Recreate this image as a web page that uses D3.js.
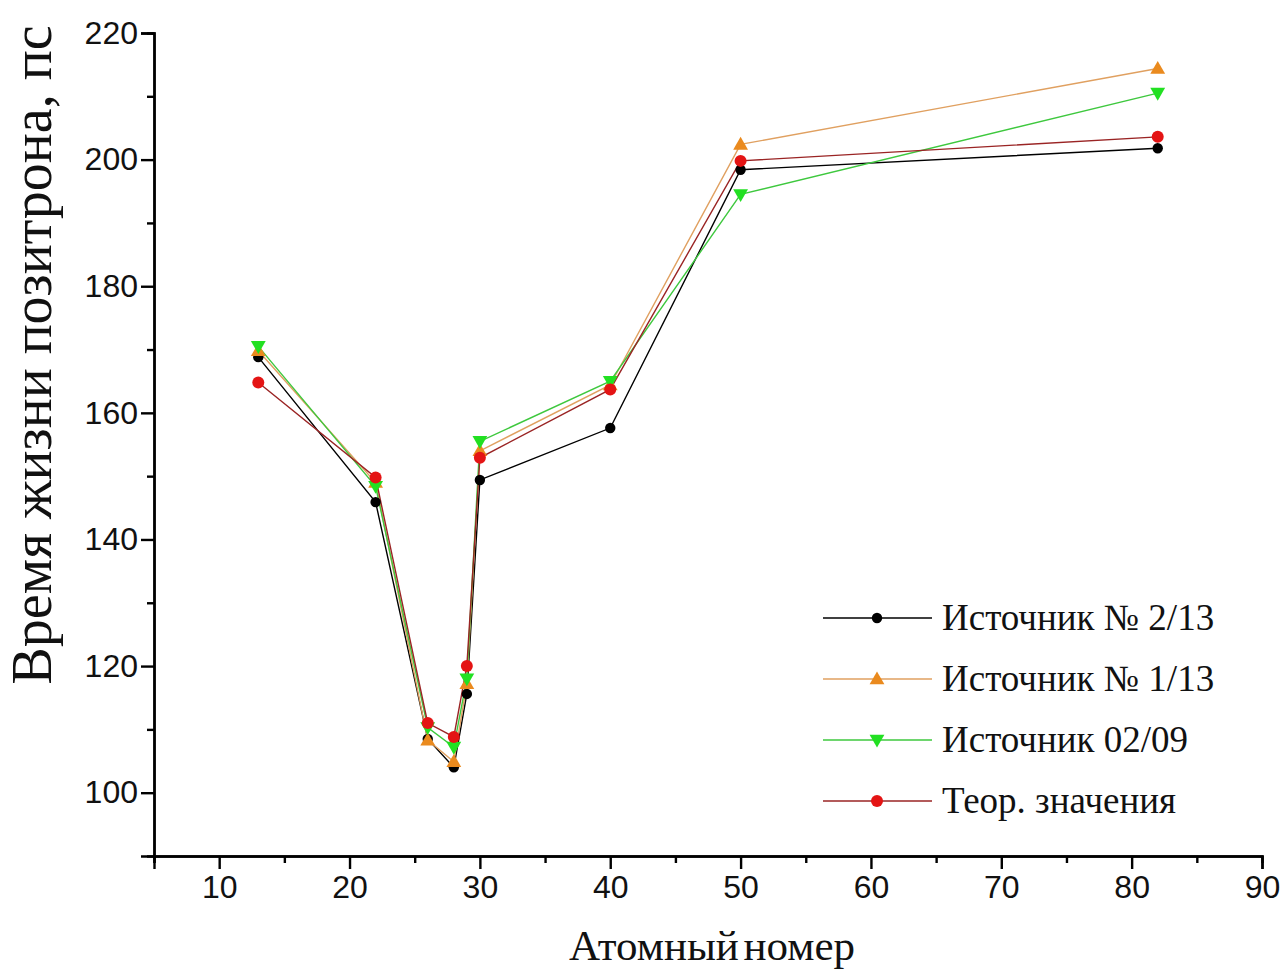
<!DOCTYPE html>
<html><head><meta charset="utf-8">
<script src="https://cdn.jsdelivr.net/npm/d3@7"></script>
<style>body{margin:0;background:#fff}svg{display:block}</style>
</head><body>
<svg id="c" width="1286" height="970"></svg>
<script>
const atomicNumbers = [13, 22, 26, 28, 29, 30, 40, 50, 82];
const src213 = [168.8, 145.9, 108.5, 104.0, 115.6, 149.4, 157.6, 198.4, 201.8];
const src113 = [169.8, 149.0, 108.3, 104.9, 117.2, 154.0, 164.4, 202.4, 214.4];
const src0209 = [170.5, 148.4, 110.3, 107.2, 118.0, 155.5, 165.0, 194.5, 210.5];
const theory = [164.8, 149.8, 111.0, 108.8, 120.0, 152.9, 163.7, 199.8, 203.6];
const seriesNames = ["Источник № 2/13", "Источник № 1/13", "Источник 02/09", "Теор. значения"];
const xTicks = [10, 20, 30, 40, 50, 60, 70, 80, 90];
const yTicks = [100, 120, 140, 160, 180, 200, 220];
const xTitle = "Атомный номер";
const yTitle = "Время жизни позитрона, пс";

const svg = d3.select("#c");
const x = d3.scaleLinear().domain([5, 90]).range([154, 1262]);
const y = d3.scaleLinear().domain([90, 220]).range([856, 33]);

const series = [
  {name: seriesNames[0], values: src213, line: "#000000", fill: "#000000", sym: "circle"},
  {name: seriesNames[1], values: src113, line: "#e0a060", fill: "#ea8a1e", sym: "up"},
  {name: seriesNames[2], values: src0209, line: "#3ec83e", fill: "#22e022", sym: "down"},
  {name: seriesNames[3], values: theory, line: "#9a2424", fill: "#e41414", sym: "circleR"}
];

function marker(g, sym, cx, cy, fill) {
  if (sym === "circle") {
    g.append("circle").attr("cx", cx).attr("cy", cy).attr("r", 5.2).attr("fill", fill);
  } else if (sym === "circleR") {
    g.append("circle").attr("cx", cx).attr("cy", cy).attr("r", 6).attr("fill", fill);
  } else {
    const p = d3.symbol().type(d3.symbolTriangle).size(95)();
    g.append("path").attr("d", p).attr("fill", fill)
      .attr("transform", `translate(${cx},${cy + (sym === "up" ? 1 : -1)}) rotate(${sym === "down" ? 180 : 0})`);
  }
}

// Axes
const xAxis = d3.axisBottom(x).tickValues(xTicks).tickSize(13).tickPadding(6).tickFormat(d3.format("d"));
const xMinor = d3.axisBottom(x).tickValues(d3.range(5, 90, 10)).tickSize(7).tickFormat("");
const yAxis = d3.axisLeft(y).tickValues(yTicks).tickSize(13).tickPadding(3).tickFormat(d3.format("d"));
const yMinor = d3.axisLeft(y).tickValues(d3.range(110, 220, 20)).tickSize(7).tickFormat("");

function styleAxis(g) {
  g.select(".domain").attr("stroke", "#000").attr("stroke-width", 2.4);
  g.selectAll(".tick line").attr("stroke", "#000").attr("stroke-width", 2.4);
  g.selectAll("text").attr("font-family", "Arial, 'Liberation Sans', sans-serif").attr("font-size", 32).attr("fill", "#111");
}
svg.append("g").attr("transform", `translate(0,${y(90)})`).call(xMinor).call(styleAxis);
svg.append("g").attr("transform", `translate(0,${y(90)})`).call(xAxis).call(styleAxis);
svg.append("g").attr("transform", `translate(${x(5)},0)`).call(yMinor).call(styleAxis);
svg.append("g").attr("transform", `translate(${x(5)},0)`).call(yAxis).call(styleAxis);

// Lines
const plot = svg.append("g");
const lineGen = d3.line().x((d, i) => x(atomicNumbers[i])).y(d => y(d));
series.forEach(s => {
  plot.append("path").attr("d", lineGen(s.values)).attr("fill", "none")
    .attr("stroke", s.line).attr("stroke-width", 1.4);
});
series.forEach(s => {
  const g = plot.append("g");
  s.values.forEach((v, i) => marker(g, s.sym, x(atomicNumbers[i]), y(v), s.fill));
});

// Titles
svg.append("text").attr("x", 712).attr("y", 960).attr("text-anchor", "middle")
  .attr("font-family", "'Liberation Serif', 'Times New Roman', serif").attr("font-size", 43).attr("fill", "#111")
  .attr("word-spacing", -6)
  .text(xTitle);
svg.append("text").attr("transform", "translate(51,355) rotate(-90)").attr("text-anchor", "middle")
  .attr("font-family", "'Liberation Serif', 'Times New Roman', serif").attr("font-size", 56).attr("fill", "#111")
  .text(yTitle);

// Legend
const leg = svg.append("g");
series.forEach((s, i) => {
  const ly = 618 + i * 61;
  leg.append("line").attr("x1", 823).attr("x2", 932).attr("y1", ly).attr("y2", ly)
    .attr("stroke", s.line).attr("stroke-width", 1.4);
  marker(leg, s.sym, 877, ly, s.fill);
  leg.append("text").attr("x", 942).attr("y", ly + 12)
    .attr("font-family", "'Liberation Serif', 'Times New Roman', serif").attr("font-size", 37).attr("fill", "#111")
    .text(s.name);
});
</script>
</body></html>
